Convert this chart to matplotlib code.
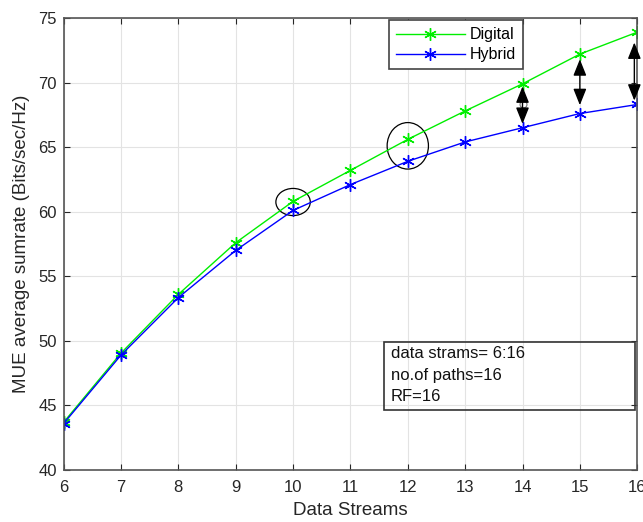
import matplotlib
matplotlib.use("Agg")
import matplotlib.pyplot as plt
from matplotlib.patches import Ellipse

# data
streams = [6, 7, 8, 9, 10, 11, 12, 13, 14, 15, 16]
digital = [43.7, 49.05, 53.6, 57.6, 60.8, 63.2, 65.6, 67.8, 69.9, 72.2, 73.9]
hybrid = [43.6, 48.9, 53.35, 57.0, 60.1, 62.1, 63.9, 65.4, 66.5, 67.6, 68.3]

info_lines = ["data strams= 6:16", "no.of paths=16", "RF=16"]

plt.rcParams['font.family'] = ['Liberation Sans', 'DejaVu Sans']

fig = plt.figure(figsize=(6.43, 5.22), dpi=100)
ax = fig.add_axes([0.099, 0.0996, 0.892, 0.866])

ast = (6, 2, 0)  # asterisk, like matlab '*'
ax.plot(streams, digital, color='#00ee00', marker=ast, markersize=9, mew=1.0, lw=1, label='Digital')
ax.plot(streams, hybrid, color='#0000ff', marker=ast, markersize=9, mew=1.0, lw=1, label='Hybrid')

ax.set_xlim(6, 16)
ax.set_ylim(40, 75)
ax.set_xticks(range(6, 17))
ax.set_yticks(range(40, 76, 5))
ax.grid(True, color='#e3e3e3', lw=0.8)
ax.set_axisbelow(True)
ax.tick_params(direction='in', top=True, right=True, labelsize=12, colors='#262626', length=4)
ax.tick_params(axis='x', pad=7)
ax.tick_params(axis='y', pad=5)
for s in ax.spines.values():
    s.set_color('#555555')
    s.set_linewidth(1.2)

ax.set_xlabel("Data Streams", fontsize=13.5, color='#262626', labelpad=5)
ax.set_ylabel("MUE average sumrate (Bits/sec/Hz)", fontsize=13.5, color='#262626', labelpad=6)

leg = ax.legend(loc='upper left', bbox_to_anchor=(0.567, 0.995), fontsize=11.5,
                fancybox=False, framealpha=1, edgecolor='#444444', borderaxespad=0,
                handlelength=4.3, borderpad=0.45, labelspacing=0.3, handletextpad=0.3)
leg.get_frame().set_linewidth(1.2)

# ellipses highlighting the gap
ax.add_patch(Ellipse((10, 60.75), 0.6, 2.1, fill=False, color='black', lw=0.9))
ax.add_patch(Ellipse((12.0, 65.1), 0.72, 3.6, fill=False, color='black', lw=0.9))

# double arrows showing the difference
for xa, y0, y1 in [(14, 66.8, 69.7), (15, 68.25, 71.8), (15.95, 68.6, 73.1)]:
    ax.annotate('', xy=(xa, y1), xytext=(xa, y0),
                arrowprops=dict(arrowstyle='<|-|>,head_length=1.0,head_width=0.4',
                                color='black', lw=1.0, shrinkA=0, shrinkB=0))
ax.plot([14], [68.3], marker='o', markersize=5, mfc='white', mec='#777777', mew=0.8)

# parameter text box
ax.text(11.7, 49.6, "\n".join(info_lines), fontsize=12, va='top', ha='left',
        linespacing=1.55, color='#111111')
ax.add_patch(plt.Rectangle((11.59, 44.65), 4.37, 5.25, fill=False,
                           edgecolor='#333333', lw=1.2))

plt.savefig("out.png", dpi=100)
